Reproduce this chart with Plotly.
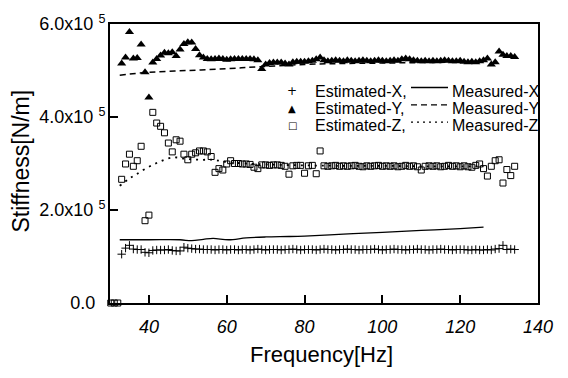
import plotly.graph_objects as go

# ---------------- data (stiffness in units of 1e5 N/m) ----------------
FREQ_EST = list(range(33, 135))  # 1 Hz sweep, estimated points

EST_X = [
    1.05, 1.18, 1.24, 1.16, 1.15, 1.15, 1.09, 1.08, 1.13, 1.14,
    1.14, 1.14, 1.15, 1.13, 1.12, 1.12, 1.20, 1.18, 1.17, 1.16,
    1.16, 1.15, 1.15, 1.15, 1.14, 1.15, 1.15, 1.14, 1.15, 1.15,
    1.14, 1.15, 1.15, 1.14, 1.15, 1.16, 1.15, 1.14, 1.15, 1.15,
    1.15, 1.14, 1.15, 1.15, 1.16, 1.15, 1.14, 1.15, 1.15, 1.15,
    1.14, 1.15, 1.16, 1.15, 1.15, 1.14, 1.15, 1.15, 1.16, 1.15,
    1.15, 1.14, 1.15, 1.15, 1.15, 1.16, 1.15, 1.14, 1.15, 1.15,
    1.16, 1.15, 1.15, 1.14, 1.15, 1.15, 1.16, 1.15, 1.15, 1.14,
    1.15, 1.15, 1.16, 1.15, 1.15, 1.14, 1.15, 1.15, 1.15, 1.14,
    1.14, 1.15, 1.14, 1.14, 1.15, 1.14, 1.16, 1.17, 1.24, 1.15,
    1.16, 1.15,
]

EST_Y = [
    5.15, 5.28, 5.83, 5.26, 5.27, 5.56, 4.96, 4.42, 5.17, 5.25,
    5.32, 5.38, 5.37, 5.39, 5.31, 5.45, 5.57, 5.61, 5.60, 5.46,
    5.33, 5.28, 5.25, 5.24, 5.25, 5.26, 5.25, 5.23, 5.24, 5.25,
    5.25, 5.25, 5.25, 5.25, 5.24, 5.22, 5.03, 5.13, 5.16, 5.17,
    5.17, 5.17, 5.15, 5.13, 5.18, 5.19, 5.19, 5.19, 5.20, 5.21,
    5.24, 5.28, 5.22, 5.20, 5.21, 5.22, 5.21, 5.20, 5.22, 5.21,
    5.20, 5.21, 5.22, 5.21, 5.20, 5.21, 5.22, 5.21, 5.20, 5.21,
    5.22, 5.21, 5.24, 5.26, 5.24, 5.22, 5.21, 5.20, 5.21, 5.20,
    5.21, 5.20, 5.21, 5.22, 5.21, 5.20, 5.20, 5.21, 5.19, 5.18,
    5.19, 5.18, 5.20, 5.22, 5.26, 5.13, 5.18, 5.41, 5.34, 5.31,
    5.31, 5.29,
]

EST_Z = [
    2.66, 2.99, 3.20, 2.94, 3.06, 3.37, 1.77, 1.89, 4.10, 3.87,
    3.80, 3.66, 3.44, 3.25, 3.51, 3.48, 3.20, 3.08, 3.20, 3.23,
    3.27, 3.27, 3.25, 3.15, 2.81, 2.89, 2.86, 2.99, 3.06, 3.00,
    3.00, 2.99, 2.99, 2.98, 2.92, 2.89, 2.97, 2.97, 2.96, 2.97,
    2.97, 2.96, 2.94, 2.77, 2.95, 2.96, 2.96, 2.79, 2.95, 2.96,
    2.78, 3.27, 2.95, 2.94, 2.95, 2.96, 2.94, 2.95, 2.94, 2.95,
    2.96, 2.94, 2.93, 2.95, 2.94, 2.95, 2.96, 2.94, 2.95, 2.94,
    2.95, 2.93, 2.94, 2.96, 2.94, 2.95, 2.93, 2.86, 2.94, 2.95,
    2.94, 2.95, 2.93, 2.94, 2.96, 2.94, 2.95, 2.93, 2.95, 2.93,
    2.92, 2.96, 2.99, 2.89, 2.73, 2.94, 3.06, 3.08, 2.58, 2.87,
    2.74, 2.94,
]

# failed estimates at the low end (zero stiffness)
FREQ_Z0 = [29.3, 30.2, 31.1, 32.0]
EST_Z0 = [0.0, 0.0, 0.0, 0.0]

FREQ_MX = [32.5, 40, 48, 51, 54, 56.5, 60.5, 65, 70, 76, 80, 90, 100, 110, 120, 126]
MEAS_X = [1.36, 1.36, 1.36, 1.34, 1.37, 1.39, 1.36, 1.40, 1.42, 1.43, 1.44, 1.48, 1.52, 1.56, 1.60, 1.63]

FREQ_MY = [32.5, 40, 50, 60, 68.5, 80, 90, 100, 110, 120, 126]
MEAS_Y = [4.90, 4.96, 5.00, 5.04, 5.08, 5.13, 5.15, 5.16, 5.17, 5.18, 5.19]

FREQ_MZ = [32.5, 34.7, 36.8, 39.8, 42.8, 46.2, 49.6, 53, 56.5, 60, 65, 70, 80, 90, 100, 110, 120, 126]
MEAS_Z = [2.52, 2.66, 2.77, 2.92, 3.04, 3.13, 3.10, 3.08, 3.08, 3.03, 3.00, 2.98, 2.96, 2.95, 2.95, 2.94, 2.94, 2.94]

SCALE = 1e5
X_TICKS = [40, 60, 80, 100, 120, 140]
Y_TICKS = [0, 2e5, 4e5, 6e5]
Y_TICKTEXT = ["0.0\u00a0\u00a0", "2.0x10 <sup>5</sup>", "4.0x10 <sup>5</sup>", "6.0x10 <sup>5</sup>"]

LEGEND_EST = ["Estimated-X,", "Estimated-Y,", "Estimated-Z,"]
LEGEND_MEAS = ["Measured-X", "Measured-Y", "Measured-Z"]
LEGEND_SYM = ["+", "\u25b2", "\u25a1"]
LEGEND_DASH = ["solid", "6px,4px", "2px,4px"]

FONT = "Liberation Sans, Arial, Helvetica, sans-serif"


def scaled(v):
    return [a * SCALE for a in v]


fig = go.Figure()

# measured curves
fig.add_trace(go.Scatter(x=FREQ_MX, y=scaled(MEAS_X), mode="lines",
                         line=dict(color="black", width=1.3), line_shape="spline"))
fig.add_trace(go.Scatter(x=FREQ_MY, y=scaled(MEAS_Y), mode="lines",
                         line=dict(color="black", width=1.5, dash="6px,4px"), line_shape="spline"))
fig.add_trace(go.Scatter(x=FREQ_MZ, y=scaled(MEAS_Z), mode="lines",
                         line=dict(color="black", width=1.8, dash="2px,5px"), line_shape="spline"))

# estimated points
fig.add_trace(go.Scatter(x=FREQ_EST, y=scaled(EST_X), mode="markers",
                         marker=dict(symbol="cross-thin", size=6, color="black",
                                     line=dict(color="black", width=1))))
fig.add_trace(go.Scatter(x=FREQ_EST, y=scaled(EST_Y), mode="markers",
                         marker=dict(symbol="triangle-up", size=8, color="black",
                                     line=dict(width=0))))
fig.add_trace(go.Scatter(x=FREQ_EST, y=scaled(EST_Z), mode="markers",
                         marker=dict(symbol="square-open", size=6, color="black",
                                     line=dict(color="black", width=1))))
fig.add_trace(go.Scatter(x=FREQ_Z0, y=scaled(EST_Z0), mode="markers", cliponaxis=False,
                         marker=dict(symbol="square-open", size=6, color="black",
                                     line=dict(color="black", width=1))))

# ---------------- layout ----------------
L, R, T, B = 110, 30, 13, 75
W, H = 568, 378
PW, PH = W - L - R, H - T - B


def px(xp):
    return (xp - L) / PW


def py(yp):
    return (H - B - yp) / PH


fig.update_layout(
    width=W, height=H,
    margin=dict(l=L, r=R, t=T, b=B),
    paper_bgcolor="white", plot_bgcolor="white",
    showlegend=False,
    font=dict(family=FONT, color="black"),
)
fig.update_xaxes(
    range=[30, 140], tickvals=X_TICKS, ticks="inside", ticklen=8, tickwidth=1.5,
    tickcolor="black", showline=True, linewidth=2, linecolor="black", mirror=True,
    showgrid=False, zeroline=False,
    tickfont=dict(size=18, family=FONT, style="italic"), ticklabelstandoff=6,
)
fig.update_yaxes(
    range=[0, 6e5], tickvals=Y_TICKS, ticktext=Y_TICKTEXT, ticks="inside", ticklen=8,
    tickwidth=1.5, tickcolor="black", showline=True, linewidth=2, linecolor="black",
    mirror=True, showgrid=False, zeroline=False,
    tickfont=dict(size=18, family=FONT), ticklabelstandoff=-1,
)

ann = []
# axis titles
ann.append(dict(x=px(321), y=py(357), xref="paper", yref="paper", text="Frequency[Hz]",
                showarrow=False, font=dict(size=22, family=FONT), xanchor="center", yanchor="middle"))
ann.append(dict(x=px(21), y=py(156), xref="paper", yref="paper", text="Stiffness[N/m]",
                showarrow=False, font=dict(size=23, family=FONT), textangle=-90,
                xanchor="center", yanchor="middle"))

rows = [83, 101, 119]
shapes = []
for i, yr in enumerate(rows):
    ann.append(dict(x=px(292), y=py(yr), xref="paper", yref="paper", text=LEGEND_SYM[i],
                    showarrow=False, font=dict(size=10 if i else 12, family="DejaVu Sans"),
                    xanchor="center", yanchor="middle"))
    ann.append(dict(x=px(313), y=py(yr), xref="paper", yref="paper", text=LEGEND_EST[i],
                    showarrow=False, font=dict(size=16, family=FONT),
                    xanchor="left", yanchor="middle"))
    ann.append(dict(x=px(450), y=py(yr), xref="paper", yref="paper", text=LEGEND_MEAS[i],
                    showarrow=False, font=dict(size=16, family=FONT),
                    xanchor="left", yanchor="middle"))
    shapes.append(dict(type="line", xref="paper", yref="paper",
                       x0=px(411), x1=px(448), y0=py(yr - 4), y1=py(yr - 4),
                       line=dict(color="black", width=1.3, dash=LEGEND_DASH[i])))

fig.update_layout(annotations=ann, shapes=shapes)

fig.write_html("out.html")
